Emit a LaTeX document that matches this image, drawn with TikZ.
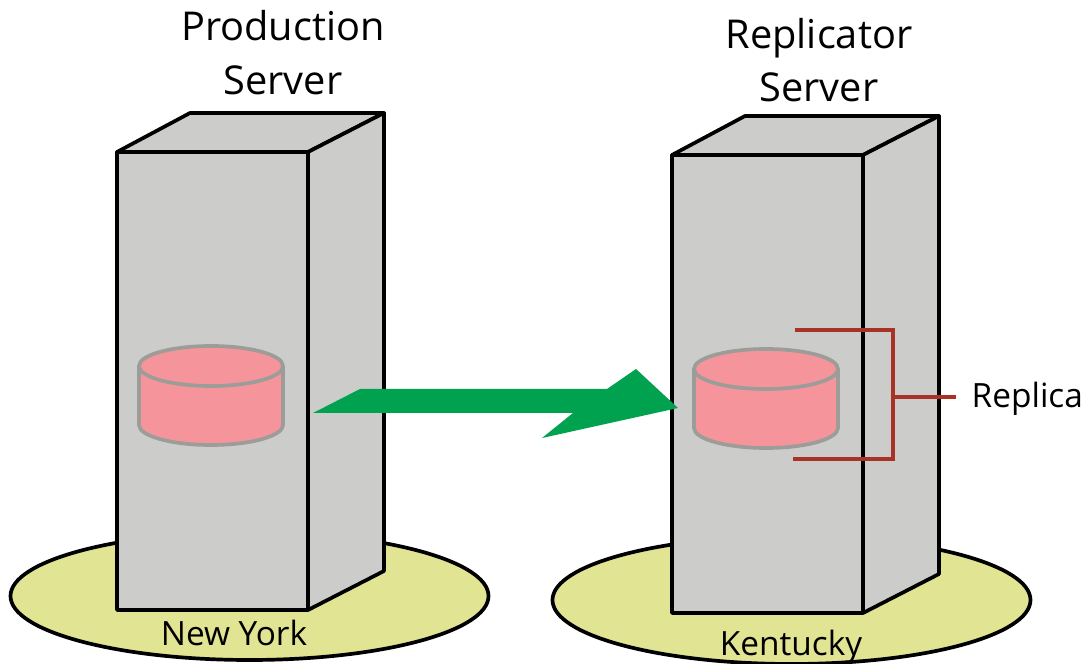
\documentclass[tikz,border=0pt]{standalone}
\usepackage{fontspec}
\setmainfont{Open Sans}
\definecolor{towergray}{HTML}{CCCCCA}
\definecolor{groundyellow}{HTML}{E1E493}
\definecolor{diskpink}{HTML}{F6949C}
\definecolor{diskgray}{HTML}{9C9C98}
\definecolor{flowgreen}{HTML}{00A14F}
\definecolor{bracketred}{HTML}{A93226}
\tikzset{
  ground/.style={draw=black, line width=1.05pt, fill=groundyellow},
  tower/.style={draw=black, line width=1.05pt, fill=towergray, line join=round},
  disk/.style={draw=diskgray, line width=1.05pt, fill=diskpink},
  bracket/.style={draw=bracketred, line width=0.95pt},
  bigtext/.style={anchor=base, inner sep=0pt, font=\fontsize{11.3}{13}\selectfont},
  smalltext/.style={anchor=base, inner sep=0pt, font=\fontsize{9.5}{11}\selectfont}
}
\begin{document}
\begin{tikzpicture}[x=0.01cm,y=-0.01cm]
\useasboundingbox (0,0) rectangle (1084,664);
% grounds
\draw[ground] (249.5,596) ellipse [x radius=239, y radius=64];
\draw[ground] (791.5,600) ellipse [x radius=239, y radius=64];
% production server
\draw[tower] (117,152)--(190,113)--(384,113)--(308,152)--cycle;
\draw[tower] (308,152)--(384,113)--(384,571)--(308,610)--cycle;
\draw[tower] (117,152) rectangle (308,610);
\draw[disk] (139,366)--(139,425) arc [start angle=180, end angle=0, x radius=72, y radius=20]--(283,366);
\draw[disk] (211,366) ellipse [x radius=72, y radius=20];
% replicator server
\draw[tower] (672,155)--(745,116)--(939,116)--(863,155)--cycle;
\draw[tower] (863,155)--(939,116)--(939,574)--(863,613)--cycle;
\draw[tower] (672,155) rectangle (863,613);
\draw[disk] (694,369)--(694,428) arc [start angle=180, end angle=0, x radius=72, y radius=20]--(838,369);
\draw[disk] (766,369) ellipse [x radius=72, y radius=20];
% replication arrow
\fill[flowgreen] (313,413)--(360,389)--(607,389)--(636,369)--(678,408)--(542,438)--(573,413)--cycle;
% labels
\node[bigtext] (production) at (283,41) {Production};
\node[bigtext] (productionserver) at (283,95) {Server};
\node[bigtext] (replicator) at (819,49) {Replicator};
\node[bigtext] (replicatorserver) at (819,102) {Server};
\node[smalltext] (newyork) at (234,646) {New York};
\node[smalltext] (kentucky) at (791,656) {Kentucky};
\node[smalltext, anchor=base west] (replica) at (971,408) {Replica};
% replica bracket
\coordinate (bracketup) at (795,330);
\coordinate (bracketdown) at (793,459);
\coordinate (bracketmid) at (893,397);
\draw[bracket] (bracketup)--(893,330)--(893,459)--(bracketdown);
\draw[bracket] (bracketmid)--(956,397);
\end{tikzpicture}
\end{document}
